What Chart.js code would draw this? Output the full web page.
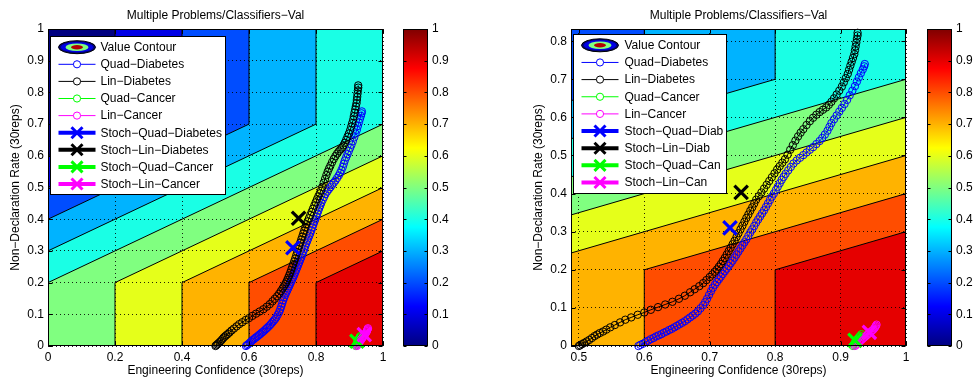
<!DOCTYPE html>
<html lang="en">
<head>
  <meta charset="UTF-8">
  <title>Multiple Problems/Classifiers−Val</title>
  <script src="https://cdn.jsdelivr.net/npm/chart.js"></script>
  <style>
    html, body { margin: 0; padding: 0; background: #fff; }
    body { width: 973px; height: 381px; position: relative; overflow: hidden; }
    canvas { position: absolute; top: 0; }
  </style>
</head>
<body>
  <canvas id="mainL" width="431" height="381" style="left:0px"></canvas>
  <canvas id="barL" width="80" height="381" style="left:400px"></canvas>
  <canvas id="mainR" width="469" height="381" style="left:504px"></canvas>
  <canvas id="barR" width="49" height="381" style="left:924px"></canvas>

  <script>
    const FONT = "'Liberation Sans', Arial, Helvetica, sans-serif";

    // ---- data ----
    const chartTitle = 'Multiple Problems/Classifiers−Val';
    const xTitle = 'Engineering Confidence (30reps)';
    const yTitle = 'Non−Declaration Rate (30reps)';

    const xTicksLeft = [0, 0.2, 0.4, 0.6, 0.8, 1];
    const yTicksLeft = [0, 0.1, 0.2, 0.3, 0.4, 0.5, 0.6, 0.7, 0.8, 0.9, 1];
    const xTicksRight = [0.5, 0.6, 0.7, 0.8, 0.9, 1];
    const yTicksRight = [0, 0.1, 0.2, 0.3, 0.4, 0.5, 0.6, 0.7, 0.8];
    const colorbarTicks = [0, 0.1, 0.2, 0.3, 0.4, 0.5, 0.6, 0.7, 0.8, 0.9, 1];

    const xRangeLeft = [0, 1], yRangeLeft = [0, 1];
    const xRangeRight = [0.488, 1], yRangeRight = [0, 0.832];

    // value field: base + slope*EC - clamp(NDR - knee0, 0, knee1 - knee0)
    const fieldBase = 0.4;
    const fieldSlope = 0.5;
    const fieldKnees = [0.2, 0.7];
    const contourLevels = [-0.1, 0, 0.1, 0.2, 0.3, 0.4, 0.5, 0.6, 0.7, 0.8];

    const legendLabelsLeft = ['Value Contour', 'Quad−Diabetes', 'Lin−Diabetes', 'Quad−Cancer', 'Lin−Cancer',
      'Stoch−Quad−Diabetes', 'Stoch−Lin−Diabetes', 'Stoch−Quad−Cancer', 'Stoch−Lin−Cancer'];
    const legendLabelsRight = ['Value Contour', 'Quad−Diabetes', 'Lin−Diabetes', 'Quad−Cancer', 'Lin−Cancer',
      'Stoch−Quad−Diab', 'Stoch−Lin−Diab', 'Stoch−Quad−Can', 'Stoch−Lin−Can'];

    const quadDiabetes = [
      [0.591,0.000],[0.594,0.003],[0.598,0.006],[0.602,0.010],[0.606,0.014],[0.610,0.018],[0.614,0.021],
      [0.618,0.025],[0.622,0.028],[0.626,0.031],[0.630,0.035],[0.634,0.038],[0.638,0.042],[0.642,0.045],
      [0.646,0.049],[0.650,0.053],[0.654,0.057],[0.658,0.061],[0.662,0.065],[0.666,0.070],[0.670,0.075],
      [0.674,0.080],[0.678,0.085],[0.682,0.091],[0.686,0.099],[0.690,0.107],[0.693,0.115],[0.696,0.124],
      [0.699,0.134],[0.702,0.144],[0.705,0.153],[0.708,0.161],[0.711,0.168],[0.714,0.175],[0.717,0.182],
      [0.720,0.189],[0.723,0.196],[0.726,0.203],[0.729,0.210],[0.732,0.217],[0.735,0.224],[0.738,0.232],
      [0.741,0.240],[0.744,0.248],[0.747,0.256],[0.750,0.264],[0.753,0.272],[0.756,0.280],[0.759,0.289],
      [0.762,0.298],[0.765,0.306],[0.768,0.315],[0.771,0.324],[0.774,0.332],[0.777,0.340],[0.780,0.348],
      [0.783,0.356],[0.786,0.365],[0.789,0.374],[0.792,0.383],[0.795,0.392],[0.798,0.400],[0.801,0.409],
      [0.804,0.418],[0.807,0.427],[0.810,0.436],[0.813,0.444],[0.816,0.452],[0.820,0.461],[0.824,0.470],
      [0.828,0.479],[0.833,0.487],[0.838,0.494],[0.843,0.501],[0.848,0.508],[0.853,0.515],[0.858,0.522],
      [0.863,0.530],[0.868,0.538],[0.872,0.546],[0.876,0.555],[0.880,0.565],[0.883,0.575],[0.886,0.585],
      [0.890,0.595],[0.894,0.605],[0.898,0.615],[0.902,0.625],[0.906,0.635],[0.910,0.646],[0.914,0.658],
      [0.918,0.670],[0.922,0.682],[0.925,0.694],[0.928,0.705],[0.931,0.716],[0.934,0.726],[0.936,0.734],
      [0.937,0.740]
    ];
    const linDiabetes = [
      [0.500,0.000],[0.502,0.002],[0.505,0.005],[0.508,0.008],[0.512,0.012],[0.516,0.016],[0.520,0.021],
      [0.524,0.026],[0.528,0.030],[0.532,0.034],[0.537,0.038],[0.542,0.043],[0.548,0.049],[0.555,0.055],
      [0.563,0.062],[0.571,0.069],[0.580,0.075],[0.590,0.082],[0.600,0.088],[0.610,0.095],[0.621,0.102],
      [0.632,0.109],[0.643,0.116],[0.653,0.124],[0.662,0.132],[0.670,0.141],[0.677,0.149],[0.684,0.157],
      [0.690,0.165],[0.695,0.173],[0.700,0.181],[0.704,0.188],[0.708,0.195],[0.711,0.201],[0.714,0.208],
      [0.717,0.215],[0.720,0.223],[0.723,0.231],[0.726,0.240],[0.729,0.249],[0.732,0.258],[0.735,0.267],
      [0.738,0.276],[0.741,0.286],[0.744,0.296],[0.747,0.306],[0.750,0.316],[0.753,0.326],[0.756,0.336],
      [0.759,0.345],[0.762,0.355],[0.765,0.364],[0.768,0.374],[0.771,0.384],[0.775,0.393],[0.779,0.403],
      [0.783,0.413],[0.787,0.423],[0.791,0.433],[0.795,0.443],[0.799,0.453],[0.803,0.463],[0.807,0.472],
      [0.811,0.481],[0.815,0.490],[0.819,0.502],[0.823,0.515],[0.827,0.527],[0.831,0.539],[0.835,0.550],
      [0.839,0.560],[0.843,0.569],[0.848,0.580],[0.853,0.590],[0.858,0.599],[0.863,0.607],[0.868,0.614],
      [0.873,0.620],[0.878,0.626],[0.882,0.633],[0.886,0.641],[0.890,0.650],[0.894,0.660],[0.898,0.670],
      [0.902,0.681],[0.905,0.692],[0.908,0.703],[0.911,0.714],[0.913,0.725],[0.915,0.736],[0.917,0.746],
      [0.919,0.756],[0.921,0.766],[0.922,0.776],[0.923,0.786],[0.924,0.796],[0.925,0.806],[0.926,0.815],
      [0.926,0.822]
    ];
    const quadCancer = [
      [0.919,0.000],[0.920,0.003],[0.921,0.006],[0.922,0.009],[0.923,0.012],[0.924,0.015],[0.926,0.019],
      [0.928,0.023],[0.930,0.027],[0.932,0.031]
    ];
    const linCancer = [
      [0.922,0.000],[0.924,0.003],[0.926,0.006],[0.928,0.010],[0.930,0.013],[0.932,0.016],[0.934,0.019],
      [0.936,0.022],[0.938,0.025],[0.940,0.028],[0.942,0.031],[0.944,0.034],[0.946,0.037],[0.948,0.040],
      [0.950,0.043],[0.952,0.047],[0.953,0.050],[0.954,0.053],[0.955,0.056]
    ];
    const stochQuadDiabetes = [0.731, 0.310];
    const stochLinDiabetes = [0.748, 0.403];
    const stochQuadCancer = [0.922, 0.015];
    const stochLinCancer = [0.944, 0.036];

    // ---- helpers ----
    Chart.defaults.font.family = FONT;
    Chart.defaults.color = '#000';
    const tickFont = { family: FONT, size: 12 };
    const fmt = v => String(Math.round(v * 100) / 100);

    function jet(t) {
      t = Math.min(1, Math.max(0, t));
      const ch = v => Math.round(255 * Math.min(1, Math.max(0, 1.5 - Math.abs(v))));
      return 'rgb(' + ch(4 * t - 3) + ',' + ch(4 * t - 2) + ',' + ch(4 * t - 1) + ')';
    }

    // polyline (data coords) where the value field equals `level`
    function contourLine(level) {
      const xLow = (level - fieldBase) / fieldSlope;
      const xHigh = (level - fieldBase + fieldKnees[1] - fieldKnees[0]) / fieldSlope;
      return [[xLow, -1], [xLow, fieldKnees[0]], [xHigh, fieldKnees[1]], [xHigh, 2]];
    }

    function tracePath(ctx, pts) {
      ctx.beginPath();
      pts.forEach((p, i) => i ? ctx.lineTo(p[0], p[1]) : ctx.moveTo(p[0], p[1]));
    }

    const contourPlugin = {
      id: 'contourFill',
      beforeDraw(chart) {
        const { ctx, chartArea: a, scales: { x, y } } = chart;
        const toPx = p => [x.getPixelForValue(p[0]), y.getPixelForValue(p[1])];
        ctx.save();
        ctx.beginPath();
        ctx.rect(a.left, a.top, a.width, a.height);
        ctx.clip();
        contourLevels.forEach(level => {
          tracePath(ctx, contourLine(level).concat([[5, 2], [5, -1]]).map(toPx));
          ctx.closePath();
          ctx.fillStyle = jet(level + 0.1);
          ctx.fill();
        });
        ctx.strokeStyle = '#000';
        ctx.lineWidth = 1;
        contourLevels.forEach(level => {
          tracePath(ctx, contourLine(level).map(toPx));
          ctx.stroke();
        });
        ctx.restore();
      }
    };

    // box around the axes with inward tick marks on all four sides
    const axesBoxPlugin = {
      id: 'axesBox',
      afterDatasetsDraw(chart) {
        const { ctx, chartArea: a, scales: { x, y } } = chart;
        const L = Math.round(a.left) + 0.5, R = Math.round(a.right) - 0.5;
        const T = Math.round(a.top) + 0.5, B = Math.round(a.bottom) - 0.5;
        ctx.save();
        ctx.strokeStyle = '#000';
        ctx.lineWidth = 1;
        ctx.strokeRect(L, T, R - L, B - T);
        ctx.beginPath();
        x.ticks.forEach(t => {
          const px = Math.round(x.getPixelForValue(t.value)) + 0.5;
          ctx.moveTo(px, B); ctx.lineTo(px, B - 4);
          ctx.moveTo(px, T); ctx.lineTo(px, T + 4);
        });
        y.ticks.forEach(t => {
          const py = Math.round(y.getPixelForValue(t.value)) + 0.5;
          ctx.moveTo(L, py); ctx.lineTo(L + 4, py);
          ctx.moveTo(R, py); ctx.lineTo(R - 4, py);
        });
        ctx.stroke();
        ctx.restore();
      }
    };

    const boxLegendPlugin = {
      id: 'boxLegend',
      afterDraw(chart, args, o) {
        const { ctx, chartArea: a } = chart;
        const x0 = Math.round(a.left + o.dx) + 0.5, y0 = Math.round(a.top + o.dy) + 0.5;
        ctx.save();
        ctx.fillStyle = '#fff';
        ctx.fillRect(x0, y0, o.width, o.height);
        ctx.strokeStyle = '#000';
        ctx.lineWidth = 1;
        ctx.strokeRect(x0, y0, o.width, o.height);
        const sx0 = x0 + 8, sx1 = x0 + 45, mx = x0 + 26.5;
        ctx.font = '12px ' + FONT;
        ctx.textBaseline = 'middle';
        ctx.textAlign = 'left';
        o.labels.forEach((label, i) => {
          const cy = y0 + o.first + i * o.rowH;
          if (i === 0) {
            const rings = [[18.5, 6.5, jet(0)], [16, 5, jet(0.1)], [11.5, 3.8, jet(0.5)], [6, 2.2, jet(0.95)]];
            rings.forEach(([rx, ry, c], k) => {
              ctx.beginPath();
              ctx.ellipse(mx, cy, rx, ry, 0, 0, Math.PI * 2);
              ctx.fillStyle = c;
              ctx.fill();
              if (k === 0) { ctx.strokeStyle = '#000'; ctx.lineWidth = 1; ctx.stroke(); }
            });
          } else {
            const ds = chart.data.datasets[i - 1];
            const stoch = ds.pointStyle === 'crossRot';
            ctx.strokeStyle = ds.borderColor;
            ctx.lineWidth = stoch ? 4 : 1;
            ctx.beginPath();
            ctx.moveTo(sx0, cy); ctx.lineTo(sx1, cy);
            ctx.stroke();
            ctx.beginPath();
            if (stoch) {
              const h = 5.5;
              ctx.lineWidth = 3;
              ctx.moveTo(mx - h, cy - h); ctx.lineTo(mx + h, cy + h);
              ctx.moveTo(mx + h, cy - h); ctx.lineTo(mx - h, cy + h);
            } else {
              ctx.arc(mx, cy, 3.6, 0, Math.PI * 2);
              ctx.fillStyle = '#fff';
              ctx.fill();
            }
            ctx.stroke();
          }
          ctx.fillStyle = '#000';
          ctx.fillText(label, x0 + o.textX, cy + 0.5);
        });
        ctx.restore();
      }
    };

    const toXY = pts => pts.map(p => ({ x: p[0], y: p[1] }));

    function buildDatasets() {
      const curves = [
        [quadDiabetes, '#0000ff'], [linDiabetes, '#000000'],
        [quadCancer, '#00ff00'], [linCancer, '#ff00ff']
      ];
      const stoch = [
        [stochQuadDiabetes, '#0000ff'], [stochLinDiabetes, '#000000'],
        [stochQuadCancer, '#00ff00'], [stochLinCancer, '#ff00ff']
      ];
      const sets = [];
      curves.forEach(([pts, c]) => sets.push({
        data: toXY(pts), showLine: true, borderColor: c, borderWidth: 1,
        pointStyle: 'circle', pointRadius: 3.7, pointBorderWidth: 1,
        pointBorderColor: c, pointBackgroundColor: 'rgba(0,0,0,0)', clip: false
      }));
      stoch.forEach(([p, c]) => sets.push({
        data: toXY([p]), showLine: false, borderColor: c,
        pointStyle: 'crossRot', pointRadius: 9.5, pointBorderWidth: 3.2,
        pointBorderColor: c, clip: false
      }));
      sets.forEach((d, i) => { d.order = sets.length - i; });
      return sets;
    }

    function mainChart(id, s) {
      return new Chart(document.getElementById(id), {
        type: 'scatter',
        data: { datasets: buildDatasets() },
        options: {
          responsive: false,
          animation: false,
          events: [],
          layout: { padding: 0 },
          plugins: {
            legend: { display: false },
            tooltip: { enabled: false },
            title: {
              display: true, text: chartTitle, color: '#000',
              font: { family: FONT, size: 12, weight: 'normal' },
              padding: { top: 8, bottom: 6.6 }
            },
            boxLegend: s.legend
          },
          scales: {
            x: {
              type: 'linear', min: s.xRange[0], max: s.xRange[1],
              afterBuildTicks: sc => { sc.ticks = s.xTicks.map(v => ({ value: v })); },
              afterFit: sc => { sc.height = 35; },
              ticks: { callback: fmt, color: '#000', font: tickFont, padding: 4, maxRotation: 0, autoSkip: false },
              grid: { color: 'rgba(0,0,0,0.85)', lineWidth: 1, drawTicks: false },
              border: { display: false, dash: [1, 3] },
              title: { display: true, text: xTitle, color: '#000', font: tickFont, padding: { top: 0, bottom: 3 } }
            },
            y: {
              type: 'linear', min: s.yRange[0], max: s.yRange[1],
              afterBuildTicks: sc => { sc.ticks = s.yTicks.map(v => ({ value: v })); },
              afterFit: sc => { sc.width = s.pad; },
              ticks: { callback: fmt, color: '#000', font: tickFont, padding: 4, autoSkip: false },
              grid: { color: 'rgba(0,0,0,0.85)', lineWidth: 1, drawTicks: false },
              border: { display: false, dash: [1, 3] },
              title: { display: true, text: yTitle, color: '#000', font: tickFont, padding: { top: s.yTitlePad, bottom: 0 } }
            },
            // empty spacer on the right so the title centres over the plot
            ySpacer: {
              type: 'linear', position: 'right', min: 0, max: 1,
              afterFit: sc => { sc.width = s.pad; },
              ticks: { display: false },
              grid: { display: false, drawTicks: false },
              border: { display: false }
            }
          }
        },
        plugins: [contourPlugin, axesBoxPlugin, boxLegendPlugin]
      });
    }

    const colorbarPlugin = {
      id: 'jetBar',
      beforeDraw(chart) {
        const { ctx, chartArea: a } = chart;
        const g = ctx.createLinearGradient(0, a.bottom, 0, a.top);
        for (let i = 0; i <= 64; i++) g.addColorStop(i / 64, jet(i / 64));
        ctx.save();
        ctx.fillStyle = g;
        ctx.fillRect(a.left, a.top, a.width, a.height);
        ctx.restore();
      },
      afterDraw(chart) {
        const { ctx, chartArea: a, scales: { y } } = chart;
        const L = Math.round(a.left) + 0.5, R = Math.round(a.right) - 0.5;
        const T = Math.round(a.top) + 0.5, B = Math.round(a.bottom) - 0.5;
        ctx.save();
        ctx.strokeStyle = '#000';
        ctx.lineWidth = 1;
        ctx.strokeRect(L, T, R - L, B - T);
        ctx.beginPath();
        y.ticks.forEach(t => {
          const py = Math.round(y.getPixelForValue(t.value)) + 0.5;
          ctx.moveTo(L, py); ctx.lineTo(L + 3, py);
          ctx.moveTo(R, py); ctx.lineTo(R - 3, py);
        });
        ctx.stroke();
        ctx.restore();
      }
    };

    function colorbarChart(id, axisWidth) {
      return new Chart(document.getElementById(id), {
        type: 'scatter',
        data: { datasets: [] },
        options: {
          responsive: false,
          animation: false,
          events: [],
          layout: { padding: { left: 3, right: 0, top: 29, bottom: 35 } },
          plugins: { legend: { display: false }, tooltip: { enabled: false } },
          scales: {
            x: { display: false, min: 0, max: 1 },
            y: {
              position: 'right', min: 0, max: 1,
              afterBuildTicks: sc => { sc.ticks = colorbarTicks.map(v => ({ value: v })); },
              afterFit: sc => { sc.width = axisWidth; },
              ticks: { callback: fmt, color: '#000', font: tickFont, padding: 4, autoSkip: false },
              grid: { display: false, drawTicks: false },
              border: { display: false }
            }
          }
        },
        plugins: [colorbarPlugin]
      });
    }

    mainChart('mainL', {
      pad: 48, yTitlePad: 8.1,
      xRange: xRangeLeft, yRange: yRangeLeft, xTicks: xTicksLeft, yTicks: yTicksLeft,
      legend: { labels: legendLabelsLeft, dx: 2, dy: 7, width: 175, height: 158, first: 10.7, rowH: 17.1, textX: 50 }
    });
    mainChart('mainR', {
      pad: 67, yTitlePad: 27.8,
      xRange: xRangeRight, yRange: yRangeRight, xTicks: xTicksRight, yTicks: yTicksRight,
      legend: { labels: legendLabelsRight, dx: 2, dy: 4.5, width: 153, height: 159, first: 10.8, rowH: 17.15, textX: 51 }
    });
    colorbarChart('barL', 52);
    colorbarChart('barR', 21);
  </script>
</body>
</html>
